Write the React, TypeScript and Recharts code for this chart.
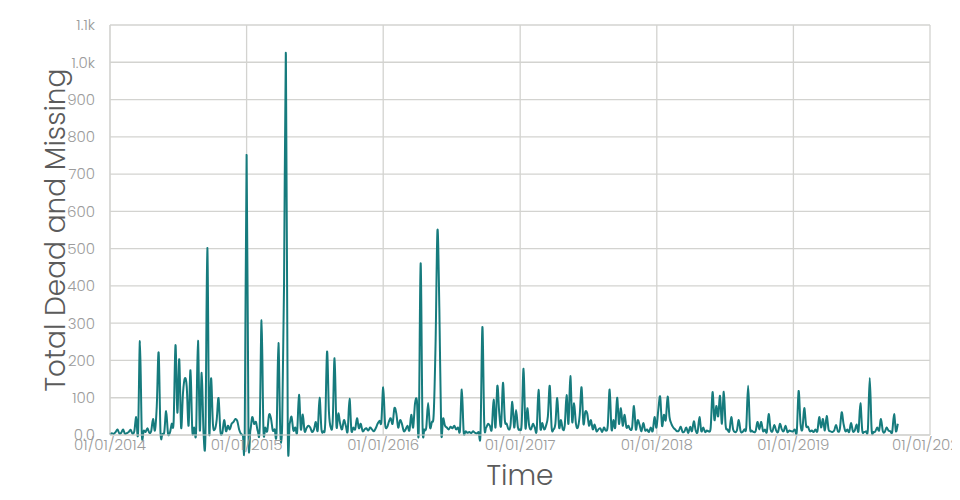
import React from "react";
import { LineChart, Line, XAxis, YAxis, CartesianGrid } from "recharts";

// Sampling grid: one value every 5 days starting at 2014-01-01
const sampleStart = "2014-01-01";
const sampleStepDays = 5;

const deaths2014 = [
  2, 5, 3, 8, 15, 4, 6, 15, 3, 5, 8, 14, 4, 10, 48, 5, 252, 3, 12, 8,
  18, 6, 10, 43, 12, 78, 221, 5, 3, 8, 64, 4, 6, 30, 35, 241, 60, 203, 20, 112,
  152, 130, 25, 174, 10, 20, 8, 253, 12, 167, 5, 0, 502, 10, 152, 30, 15, 40, 99, 10,
  5, 40, 10, 25, 15, 30, 35, 43, 38, 15, 3, 0, 2,
];
const deaths2015 = [
  751, 8, 12, 48, 30, 35, 10, 20, 308, 15, 20, 10, 54, 45, 12, 15, 5, 247, 10, 25,
  400, 1020, 15, 30, 49, 12, 20, 8, 108, 15, 55, 10, 18, 25, 20, 8, 15, 35, 12, 100,
  15, 10, 30, 224, 62, 20, 35, 206, 25, 58, 30, 15, 40, 25, 10, 97, 12, 20, 15, 45,
  18, 30, 10, 15, 18, 12, 20, 15, 10, 18, 30, 38, 35,
];
const deaths2016 = [
  128, 30, 20, 35, 45, 30, 72, 58, 20, 40, 30, 10, 15, 25, 12, 54, 20, 85, 92, 10,
  461, 30, 15, 20, 86, 20, 35, 58, 250, 550, 340, 10, 45, 25, 20, 15, 22, 18, 25, 15,
  20, 12, 122, 8, 10, 6, 8, 5, 10, 6, 4, 8, 5, 290, 30, 20, 30, 25, 15, 95,
  20, 132, 60, 25, 140, 40, 30, 15, 25, 89, 20, 67, 20,
];
const deaths2017 = [
  15, 30, 178, 20, 72, 25, 15, 30, 20, 12, 121, 18, 32, 15, 25, 50, 132, 20, 15, 30,
  99, 20, 40, 15, 25, 107, 30, 158, 35, 85, 30, 20, 53, 128, 30, 62, 58, 25, 40, 15,
  28, 10, 15, 18, 8, 20, 12, 25, 122, 15, 40, 20, 100, 30, 72, 25, 54, 20, 25, 15,
  20, 78, 15, 40, 27, 10, 32, 12, 15, 8, 20, 10, 48,
];
const deaths2018 = [
  20, 67, 103, 25, 54, 40, 103, 48, 30, 20, 15, 10, 12, 22, 8, 10, 20, 5, 22, 10,
  37, 12, 8, 48, 10, 20, 8, 12, 10, 20, 115, 40, 78, 50, 105, 30, 116, 25, 15, 10,
  48, 15, 8, 12, 40, 10, 8, 15, 20, 132, 20, 12, 8, 10, 35, 15, 35, 10, 15, 8,
  56, 15, 10, 27, 12, 8, 30, 15, 10, 25, 8, 12, 10,
];
const deaths2019 = [
  10, 15, 8, 118, 30, 15, 72, 25, 22, 10, 12, 8, 15, 10, 48, 20, 43, 12, 51, 15,
  10, 8, 12, 27, 10, 15, 61, 30, 10, 15, 8, 32, 10, 12, 28, 10, 85, 12, 8, 10,
  15, 153, 15, 8, 10, 20, 12, 43, 10, 8, 20, 12, 10, 8, 56, 10, 30,
];

const yearTicks = [2014, 2015, 2016, 2017, 2018, 2019, 2020];
const yTicks = [0, 100, 200, 300, 400, 500, 600, 700, 800, 900, 1000, 1100];

const DAY = 86400000;
const startMs = Date.parse(sampleStart + "T00:00:00Z");
const allDeaths = [
  ...deaths2014,
  ...deaths2015,
  ...deaths2016,
  ...deaths2017,
  ...deaths2018,
  ...deaths2019,
];
const data = allDeaths.map((v, i) => ({ t: startMs + i * sampleStepDays * DAY, v }));
const xTicks = yearTicks.map((y) => Date.UTC(y, 0, 1));

const fmtX = (t: number) => {
  const d = new Date(t);
  return "01/01/" + d.getUTCFullYear();
};
const fmtY = (v: number) => {
  if (v === 0) return "0.0";
  if (v >= 1000) return (v / 1000).toFixed(1) + "k";
  return String(v);
};

// Uniform Catmull-Rom curve (spline smoothing) as a d3-style curve factory
const catmullRom = (context: any) => {
  let pts: number[][] = [];
  return {
    areaStart() {},
    areaEnd() {},
    lineStart() {
      pts = [];
    },
    point(x: number, y: number) {
      pts.push([+x, +y]);
    },
    lineEnd() {
      const n = pts.length;
      if (!n) return;
      context.moveTo(pts[0][0], pts[0][1]);
      for (let i = 0; i < n - 1; i++) {
        const p0 = pts[i - 1] || pts[i];
        const p1 = pts[i];
        const p2 = pts[i + 1];
        const p3 = pts[i + 2] || p2;
        context.bezierCurveTo(
          p1[0] + (p2[0] - p0[0]) / 6,
          p1[1] + (p2[1] - p0[1]) / 6,
          p2[0] - (p3[0] - p1[0]) / 6,
          p2[1] - (p3[1] - p1[1]) / 6,
          p2[0],
          p2[1]
        );
      }
    },
  };
};

const FONT = "Poppins, Lato, 'Open Sans', sans-serif";
const tickStyle = { fill: "#9b9b9b", fontSize: 15, fontFamily: FONT, fontWeight: 300 };

export default function App() {
  return (
    <LineChart
      width={952}
      height={492}
      data={data}
      margin={{ top: 17, right: 30, left: 0, bottom: 0 }}
    >
      <CartesianGrid stroke="#d3d3d0" strokeWidth={1.3} />
      <XAxis
        dataKey="t"
        type="number"
        domain={[xTicks[0], xTicks[xTicks.length - 1]]}
        ticks={xTicks}
        tickFormatter={fmtX}
        tick={tickStyle}
        tickSize={0}
        tickMargin={4}
        axisLine={{ stroke: "#d3d3d0" }}
        height={65}
        interval={0}
        label={{
          value: "Time",
          position: "center",
          dy: 8,
          style: { fill: "#5b5b5b", fontSize: 28, fontFamily: FONT, fontWeight: 300 },
        }}
      />
      <YAxis
        type="number"
        domain={[0, 1100]}
        ticks={yTicks}
        tickFormatter={fmtY}
        tick={tickStyle}
        tickSize={0}
        tickMargin={15}
        axisLine={{ stroke: "#d3d3d0" }}
        width={102}
        interval={0}
        label={{
          value: "Total Dead and Missing",
          angle: -90,
          position: "center",
          dx: -4,
          style: { fill: "#5b5b5b", fontSize: 28, fontFamily: FONT, fontWeight: 300, textAnchor: "middle" },
        }}
      />
      <Line
        type={catmullRom as any}
        dataKey="v"
        stroke="#167b7d"
        strokeWidth={2}
        dot={false}
        isAnimationActive={false}
      />
    </LineChart>
  );
}
